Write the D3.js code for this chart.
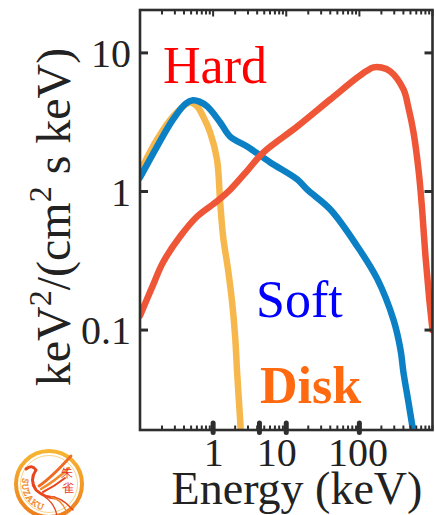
<!DOCTYPE html>
<html>
<head>
<meta charset="utf-8">
<script src="https://cdn.jsdelivr.net/npm/d3@7"></script>
<style>
  html, body { margin: 0; padding: 0; background: #fff; }
  svg { display: block; }
  text { font-family: "Liberation Serif", "Times New Roman", serif; }
</style>
</head>
<body>
<svg id="chart" width="436" height="515"></svg>
<script>
// Spectral components: energy (keV) and E^2 N(E) flux (keV^2 / (cm^2 s keV))
const hardEnergy = [0.1, 0.15, 0.206, 0.353, 0.604, 1.13, 1.71, 3.02, 4.84, 14.2, 40.1, 94, 125, 156, 200, 266, 401, 470, 550, 650, 720, 802, 900, 1000];
const hardFlux   = [0.127, 0.21, 0.307, 0.473, 0.66, 0.85, 1.03, 1.44, 1.91, 2.95, 4.62, 6.65, 7.4, 7.86, 7.85, 7.35, 5.45, 4.0, 2.67, 1.37, 0.75, 0.34, 0.17, 0.1];

const softEnergy = [0.1, 0.171, 0.283, 0.42, 0.532, 0.65, 0.83, 1.25, 1.71, 2.92, 6.04, 14.2, 19.4, 40.1, 94, 177, 292, 365, 401, 470, 532];
const softFlux   = [1.26, 2.11, 3.31, 4.3, 4.55, 4.45, 4.11, 3.15, 2.49, 2.11, 1.62, 1.22, 1.03, 0.741, 0.401, 0.232, 0.119, 0.0723, 0.0493, 0.03, 0.0201];

const diskEnergy = [0.1, 0.171, 0.283, 0.484, 0.604, 0.73, 0.91, 1.13, 1.25, 1.37, 1.6, 1.82, 2.0, 2.13, 2.34, 2.4];
const diskFlux   = [1.39, 2.37, 3.48, 4.39, 4.11, 3.48, 2.67, 1.70, 0.83, 0.473, 0.273, 0.158, 0.0898, 0.0493, 0.0226, 0.018];

const yTickValues = [0.1, 1, 10];
const yTickLabels = ["0.1", "1", "10"];
const xTickValues = [1, 10, 100];
const xTickLabels = ["1", "10", "100"];
const xBoldTicks  = [1, 4.3, 10, 100];

const seriesNames  = ["Disk", "Soft", "Hard"];
const seriesColors = ["#f6b84c", "#0b80c4", "#ef5637"];

const svg = d3.select("#chart");
const plotL = 140, plotR = 432.5, plotT = 10, plotB = 430;

const x = d3.scaleLog().domain([0.1, 1000]).range([plotL, plotR]);
const y = d3.scaleLog().domain([0.019, 20.4]).range([plotB, plotT]);

const defs = svg.append("defs");
defs.append("clipPath").attr("id", "plotClip")
  .append("rect").attr("x", plotL).attr("y", plotT)
  .attr("width", plotR - plotL).attr("height", plotB - plotT);

// curves (disk underneath, hard on top)
const series = [
  { e: diskEnergy, f: diskFlux },
  { e: softEnergy, f: softFlux },
  { e: hardEnergy, f: hardFlux }
];
const line = d3.line()
  .x(d => x(d[0]))
  .y(d => y(d[1]))
  .curve(d3.curveCatmullRom.alpha(0.5));

const curves = svg.append("g").attr("clip-path", "url(#plotClip)");
series.forEach((s, i) => {
  curves.append("path")
    .datum(s.e.map((e, j) => [e, s.f[j]]))
    .attr("d", line)
    .attr("fill", "none")
    .attr("stroke", seriesColors[i])
    .attr("stroke-width", 6.5)
    .attr("stroke-linecap", "round")
    .attr("stroke-linejoin", "round");
});

// minor / major log ticks along top and bottom
const allTicks = [];
for (let p = -1; p < 3; p++) {
  for (let m = 1; m <= 9; m++) allTicks.push(m * Math.pow(10, p));
}
allTicks.push(1000);
const isDecade = v => Math.abs(Math.log10(v) - Math.round(Math.log10(v))) < 1e-9;

const frameColor = "#2e2e2e";
const tk = svg.append("g").attr("stroke", frameColor).attr("stroke-linecap", "butt");
allTicks.forEach(v => {
  const px = x(v);
  tk.append("line").attr("x1", px).attr("x2", px)
    .attr("y1", plotT).attr("y2", plotT + (isDecade(v) ? 6.5 : 4.5))
    .attr("stroke-width", 2);
  tk.append("line").attr("x1", px).attr("x2", px)
    .attr("y1", plotB).attr("y2", plotB - 4.5)
    .attr("stroke-width", 2);
});
xBoldTicks.forEach(v => {
  tk.append("line").attr("x1", x(v)).attr("x2", x(v))
    .attr("y1", plotB - 7).attr("y2", plotB + 2.5)
    .attr("stroke-width", 5).attr("stroke-linecap", "round");
});
yTickValues.forEach(v => {
  tk.append("line").attr("x1", plotL).attr("x2", plotL + 8)
    .attr("y1", y(v)).attr("y2", y(v)).attr("stroke-width", 3);
  tk.append("line").attr("x1", plotR).attr("x2", plotR - 8)
    .attr("y1", y(v)).attr("y2", y(v)).attr("stroke-width", 3);
});

// frame
svg.append("rect")
  .attr("x", plotL).attr("y", plotT)
  .attr("width", plotR - plotL).attr("height", plotB - plotT)
  .attr("fill", "none").attr("stroke", frameColor).attr("stroke-width", 2.6);

// tick labels via axis generators
const yAxis = d3.axisLeft(y).tickValues(yTickValues)
  .tickFormat((d, i) => yTickLabels[i]).tickSize(0).tickPadding(9);
const gy = svg.append("g").attr("transform", `translate(${plotL},0)`).call(yAxis);
gy.select(".domain").remove();
gy.selectAll("text").attr("font-family", "Liberation Serif, serif")
  .attr("font-size", 40).attr("fill", "#222").attr("dy", "0.34em");

const xAxis = d3.axisBottom(x).tickValues(xTickValues)
  .tickFormat((d, i) => xTickLabels[i]).tickSize(0).tickPadding(8);
const gx = svg.append("g").attr("transform", `translate(0,${plotB})`).call(xAxis);
gx.select(".domain").remove();
gx.selectAll("text").attr("font-family", "Liberation Serif, serif")
  .attr("font-size", 40).attr("fill", "#222")
  .attr("dx", d => d === 10 ? -10 : (d === 100 ? -2 : 0));

// axis titles
svg.append("text")
  .attr("x", 297).attr("y", 504)
  .attr("text-anchor", "middle")
  .attr("font-size", 46).attr("fill", "#222")
  .text("Energy (keV)");

const yTitle = svg.append("text")
  .attr("transform", "translate(70,217) rotate(-90)")
  .attr("text-anchor", "middle")
  .attr("font-size", 48).attr("fill", "#222");
yTitle.append("tspan").text("keV");
yTitle.append("tspan").attr("font-size", 32).attr("dy", -19).text("2");
yTitle.append("tspan").attr("dy", 19).text("/(cm");
yTitle.append("tspan").attr("font-size", 32).attr("dy", -19).text("2");
yTitle.append("tspan").attr("dy", 19).text(" s keV)");

// component labels
svg.append("text").attr("x", 163).attr("y", 83)
  .attr("font-size", 52).attr("fill", "#ff0000").text("Hard");
svg.append("text").attr("x", 256).attr("y", 317)
  .attr("font-size", 52).attr("fill", "#0000ff").text("Soft");
svg.append("text").attr("x", 260).attr("y", 403)
  .attr("font-size", 52).attr("font-weight", "bold").attr("fill", "#ff6a10").text("Disk");

// mission emblem
const logo = svg.append("g").attr("transform", "translate(49,484)");
const grad = defs.append("linearGradient").attr("id", "ringGrad")
  .attr("x1", "0").attr("y1", "0").attr("x2", "0").attr("y2", "1");
grad.append("stop").attr("offset", "0").attr("stop-color", "#f7b531");
grad.append("stop").attr("offset", "1").attr("stop-color", "#ee7d1b");
logo.append("circle").attr("r", 33).attr("fill", "#fff")
  .attr("stroke", "url(#ringGrad)").attr("stroke-width", 4);
logo.append("circle").attr("r", 28.5).attr("fill", "none")
  .attr("stroke", "#f8c86a").attr("stroke-width", 0.8);
// phoenix body and wings
const bird = logo.append("g").attr("fill", "none").attr("stroke-linecap", "round");
bird.append("path").attr("d", "M-23,-15 Q-17,-20 -13,-14 Q-20,-4 -13,6 Q-4,14 6,14")
  .attr("stroke", "#e8451f").attr("stroke-width", 3);
bird.append("path").attr("d", "M-10,2 Q2,-6 22,-28").attr("stroke", "#ef6a22").attr("stroke-width", 2.8);
bird.append("path").attr("d", "M-8,5 Q6,-3 20,-16").attr("stroke", "#f08a2a").attr("stroke-width", 2.4);
bird.append("path").attr("d", "M-6,8 Q6,2 16,-6").attr("stroke", "#e8451f").attr("stroke-width", 2);
bird.append("path").attr("d", "M-2,12 Q12,12 24,26").attr("stroke", "#e8451f").attr("stroke-width", 1.3);
bird.append("path").attr("d", "M2,13 Q14,16 18,30").attr("stroke", "#f08a2a").attr("stroke-width", 1.3);
bird.append("path").attr("d", "M-4,13 Q6,20 8,32").attr("stroke", "#e8451f").attr("stroke-width", 1.3);
logo.append("text").attr("x", 18).attr("y", -7)
  .attr("font-family", "Noto Sans CJK SC").attr("font-size", 12)
  .attr("fill", "#e8382a").attr("text-anchor", "middle").text("朱");
logo.append("text").attr("x", 19).attr("y", 8)
  .attr("font-family", "Noto Sans CJK SC").attr("font-size", 12)
  .attr("fill", "#e8382a").attr("text-anchor", "middle").text("雀");
logo.append("path")
  .attr("id", "emblemArc").attr("fill", "none")
  .attr("d", "M-26,-6 A26,26 0 0,0 4,26");
logo.append("text").attr("font-family", "DejaVu Sans").attr("font-size", 9)
  .attr("fill", "none").attr("stroke", "#f08a2a").attr("stroke-width", 0.6)
  .append("textPath").attr("href", "#emblemArc").attr("letter-spacing", 1).text("SUZAKU");
</script>
</body>
</html>
